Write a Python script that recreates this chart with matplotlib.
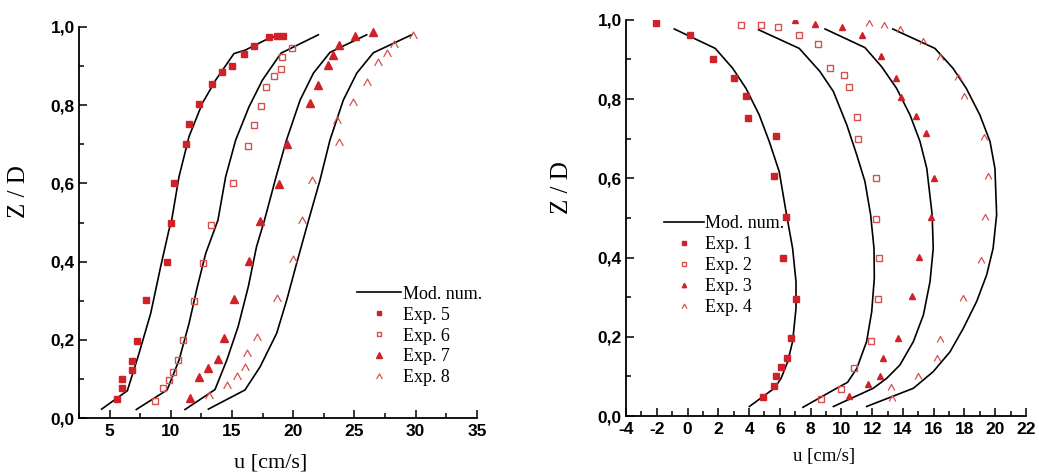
import matplotlib
matplotlib.use('Agg')
import matplotlib.pyplot as plt
from matplotlib.path import Path
from matplotlib.ticker import MultipleLocator, FuncFormatter

# --- left panel: Exp. 5-8 ---
exp5_u = [5.6, 6.0, 6.05, 6.85, 6.85, 7.2, 7.95, 9.65, 10.05, 10.25, 11.25, 11.5, 12.3, 13.4, 14.15, 15.0, 15.95, 16.8, 18.05, 18.65, 19.2]
exp5_z = [0.049, 0.077, 0.100, 0.122, 0.146, 0.197, 0.302, 0.398, 0.498, 0.602, 0.702, 0.753, 0.803, 0.854, 0.885, 0.900, 0.930, 0.951, 0.974, 0.977, 0.976]
exp6_u = [8.75, 9.4, 9.85, 10.15, 10.55, 11.0, 11.9, 12.6, 13.3, 15.05, 16.3, 16.8, 17.35, 17.8, 18.4, 19.0, 19.05, 19.9]
exp6_z = [0.044, 0.077, 0.098, 0.119, 0.148, 0.200, 0.300, 0.397, 0.494, 0.600, 0.696, 0.749, 0.798, 0.846, 0.874, 0.893, 0.922, 0.946]
exp7_u = [11.55, 12.3, 13.0, 13.85, 14.35, 15.15, 16.4, 17.25, 18.85, 19.5, 21.35, 22.0, 22.85, 23.25, 23.75, 25.05, 26.55]
exp7_z = [0.052, 0.105, 0.127, 0.151, 0.205, 0.305, 0.401, 0.505, 0.598, 0.702, 0.805, 0.851, 0.904, 0.929, 0.954, 0.978, 0.986]
exp8_u = [13.15, 14.6, 15.4, 16.1, 16.2, 17.0, 18.7, 19.95, 20.7, 21.5, 23.75, 23.55, 24.9, 26.0, 26.9, 27.65, 28.2, 29.8]
exp8_z = [0.060, 0.085, 0.108, 0.130, 0.166, 0.207, 0.307, 0.406, 0.506, 0.609, 0.706, 0.762, 0.808, 0.859, 0.910, 0.934, 0.957, 0.980]

mod5_u = [4.35, 6.45, 7.4, 8.36, 9.17, 9.85, 10.07, 10.67, 11.49, 12.58, 13.66, 15.16, 16.1, 18.0, 18.9]
mod5_z = [0.023, 0.070, 0.165, 0.268, 0.387, 0.481, 0.506, 0.617, 0.720, 0.805, 0.864, 0.932, 0.941, 0.971, 0.980]
mod6_u = [7.18, 9.7, 10.67, 11.49, 12.17, 12.85, 13.85, 14.48, 15.3, 16.39, 17.48, 19.0, 22.05]
mod6_z = [0.022, 0.072, 0.148, 0.242, 0.336, 0.421, 0.506, 0.617, 0.711, 0.796, 0.864, 0.933, 0.980]
mod7_u = [11.16, 13.61, 14.57, 15.5, 16.33, 17.0, 17.65, 18.6, 19.45, 20.56, 21.65, 23.0, 26.0]
mod7_z = [0.022, 0.073, 0.148, 0.234, 0.336, 0.438, 0.506, 0.617, 0.711, 0.813, 0.882, 0.935, 0.980]
mod8_u = [13.07, 16.06, 17.29, 18.65, 19.47, 20.28, 21.2, 22.19, 23.0, 24.09, 25.19, 26.54, 29.67]
mod8_z = [0.023, 0.072, 0.131, 0.217, 0.302, 0.396, 0.500, 0.609, 0.711, 0.813, 0.882, 0.934, 0.980]

# --- right panel: Exp. 1-4 ---
exp1_u = [-2.05, 0.15, 1.65, 3.05, 3.8, 3.9, 5.75, 5.6, 6.4, 6.2, 7.05, 6.75, 6.45, 6.05, 5.75, 5.6, 4.9]
exp1_z = [0.993, 0.961, 0.901, 0.854, 0.809, 0.753, 0.706, 0.607, 0.503, 0.398, 0.296, 0.197, 0.146, 0.124, 0.101, 0.075, 0.047]
exp2_u = [3.5, 4.75, 5.85, 7.25, 8.45, 9.25, 10.2, 10.5, 11.0, 11.1, 12.25, 12.25, 12.45, 12.4, 11.9, 10.8, 10.0, 8.7]
exp2_z = [0.987, 0.987, 0.981, 0.961, 0.938, 0.879, 0.862, 0.831, 0.754, 0.699, 0.600, 0.497, 0.398, 0.295, 0.189, 0.122, 0.067, 0.043]
exp3_u = [7.0, 8.3, 10.05, 11.35, 12.55, 13.55, 13.85, 14.85, 15.5, 16.05, 15.8, 15.05, 14.6, 13.7, 12.7, 12.5, 11.75, 10.5]
exp3_z = [1.0, 0.990, 0.983, 0.963, 0.909, 0.853, 0.806, 0.758, 0.715, 0.600, 0.503, 0.402, 0.303, 0.198, 0.147, 0.102, 0.080, 0.051]
exp4_u = [11.8, 12.75, 13.8, 15.3, 16.4, 17.6, 18.0, 19.3, 19.5, 19.35, 19.1, 17.9, 16.4, 16.2, 14.95, 13.2, 13.3]
exp4_z = [0.993, 0.987, 0.976, 0.947, 0.906, 0.855, 0.808, 0.705, 0.606, 0.503, 0.394, 0.299, 0.194, 0.146, 0.100, 0.072, 0.046]

mod1_u = [-0.86, 1.8, 2.93, 3.8, 4.66, 5.31, 5.96, 6.4, 6.83, 7.05, 7.05, 6.83, 6.51, 6.08, 5.64, 4.02]
mod1_z = [0.977, 0.928, 0.878, 0.827, 0.760, 0.693, 0.617, 0.516, 0.423, 0.339, 0.272, 0.188, 0.137, 0.095, 0.070, 0.024]
mod2_u = [4.62, 7.26, 8.6, 9.48, 10.35, 11.0, 11.53, 11.9, 12.12, 12.14, 11.97, 11.64, 11.0, 10.4, 9.6, 7.5]
mod2_z = [0.975, 0.928, 0.870, 0.819, 0.735, 0.659, 0.592, 0.508, 0.423, 0.348, 0.263, 0.188, 0.120, 0.085, 0.068, 0.022]
mod3_u = [8.94, 11.53, 12.61, 13.59, 14.46, 15.11, 15.55, 15.9, 15.97, 15.76, 15.33, 14.68, 13.81, 12.94, 12.07, 9.48]
mod3_z = [0.977, 0.930, 0.882, 0.827, 0.760, 0.693, 0.625, 0.508, 0.423, 0.339, 0.255, 0.188, 0.129, 0.095, 0.070, 0.024]
mod4_u = [13.34, 16.08, 17.25, 18.12, 19.0, 19.66, 19.98, 20.09, 19.86, 19.44, 18.79, 17.92, 17.06, 15.97, 14.68, 11.64]
mod4_z = [0.977, 0.928, 0.878, 0.827, 0.760, 0.693, 0.625, 0.508, 0.423, 0.356, 0.289, 0.221, 0.162, 0.112, 0.070, 0.024]

RED = '#cf2228'
PINK = '#d6504f'
SERIF = 'Liberation Serif'
SANS = 'Liberation Sans'

plt.rcParams['axes.unicode_minus'] = False

# open chevron marker, no base
caret = Path([(-1.0, -0.9), (0.0, 0.9), (1.0, -0.9)], [Path.MOVETO, Path.LINETO, Path.LINETO])


def comma(v, pos):
    return f'{v:.1f}'.replace('.', ',')


def style_axes(ax):
    for side in ['top', 'right']:
        ax.spines[side].set_visible(False)
    for side in ['left', 'bottom']:
        ax.spines[side].set_linewidth(1.3)
    ax.tick_params(which='both', direction='in', width=1.1, labelsize=12.5)
    ax.tick_params(which='major', length=6)
    ax.tick_params(which='minor', length=3.5)
    ax.tick_params(axis='x', pad=4)
    ax.tick_params(axis='y', pad=3)
    for lab in ax.get_xticklabels() + ax.get_yticklabels():
        lab.set_fontfamily(SANS)
        lab.set_fontweight('bold')
    ax.set_ylim(0, 1.0)
    ax.yaxis.set_major_locator(MultipleLocator(0.2))
    ax.yaxis.set_minor_locator(MultipleLocator(0.1))
    ax.yaxis.set_major_formatter(FuncFormatter(comma))


fig = plt.figure(figsize=(10.39, 4.73), dpi=100)
ax1 = fig.add_axes([0.076, 0.116, 0.383, 0.827])
ax2 = fig.add_axes([0.6025, 0.1205, 0.385, 0.8375])

# left panel
for mu, mz in [(mod5_u, mod5_z), (mod6_u, mod6_z), (mod7_u, mod7_z), (mod8_u, mod8_z)]:
    ax1.plot(mu, mz, color='black', lw=1.2, label='Mod. num.' if mu is mod5_u else None)
ax1.plot(exp5_u, exp5_z, ls='none', marker='s', ms=4.6, color=RED, label='Exp. 5')
ax1.plot(exp6_u, exp6_z, ls='none', marker='s', ms=4.6, mfc='none', mec=PINK, mew=1.0, label='Exp. 6')
ax1.plot(exp7_u, exp7_z, ls='none', marker='^', ms=5.2, color=RED, label='Exp. 7')
ax1.plot(exp8_u, exp8_z, ls='none', marker=caret, ms=5.5, mfc='none', mec=PINK, mew=0.9, label='Exp. 8')
ax1.set_xlim(2.5, 35)
ax1.xaxis.set_major_locator(MultipleLocator(5))
ax1.xaxis.set_minor_locator(MultipleLocator(2.5))
style_axes(ax1)
ax1.set_xlabel('u [cm/s]', fontfamily=SERIF, fontsize=16)
ax1.set_ylabel('Z / D', fontfamily=SERIF, fontsize=18)
ax1.xaxis.set_label_coords(0.482, -0.09)
ax1.yaxis.set_label_coords(-0.123, 0.578)
leg1 = ax1.legend(loc='upper left', bbox_to_anchor=(0.677, 0.362), frameon=False,
                  borderpad=0, handlelength=2.4, handletextpad=0.15, labelspacing=0.22,
                  markerscale=0.75, prop={'family': SERIF, 'size': 13})

# right panel
for mu, mz in [(mod1_u, mod1_z), (mod2_u, mod2_z), (mod3_u, mod3_z), (mod4_u, mod4_z)]:
    ax2.plot(mu, mz, color='black', lw=1.2, label='Mod. num.' if mu is mod1_u else None)
ax2.plot(exp1_u, exp1_z, ls='none', marker='s', ms=4.0, color=RED, label='Exp. 1')
ax2.plot(exp2_u, exp2_z, ls='none', marker='s', ms=4.0, mfc='none', mec=PINK, mew=1.0, label='Exp. 2')
ax2.plot(exp3_u, exp3_z, ls='none', marker='^', ms=4.2, color=RED, label='Exp. 3')
ax2.plot(exp4_u, exp4_z, ls='none', marker=caret, ms=4.8, mfc='none', mec=PINK, mew=0.9, label='Exp. 4')
ax2.set_xlim(-4, 22)
ax2.xaxis.set_major_locator(MultipleLocator(2))
ax2.xaxis.set_minor_locator(MultipleLocator(1))
style_axes(ax2)
ax2.set_xlabel('u [cm/s]', fontfamily=SERIF, fontsize=13.5)
ax2.set_ylabel('Z / D', fontfamily=SERIF, fontsize=18)
ax2.xaxis.set_label_coords(0.495, -0.081)
ax2.yaxis.set_label_coords(-0.1325, 0.576)
leg2 = ax2.legend(loc='upper left', bbox_to_anchor=(0.0725, 0.53), frameon=False,
                  borderpad=0, handlelength=2.2, handletextpad=0.05, labelspacing=0.22,
                  markerscale=0.75, prop={'family': SERIF, 'size': 13})

fig.savefig('out.png', dpi=100)
